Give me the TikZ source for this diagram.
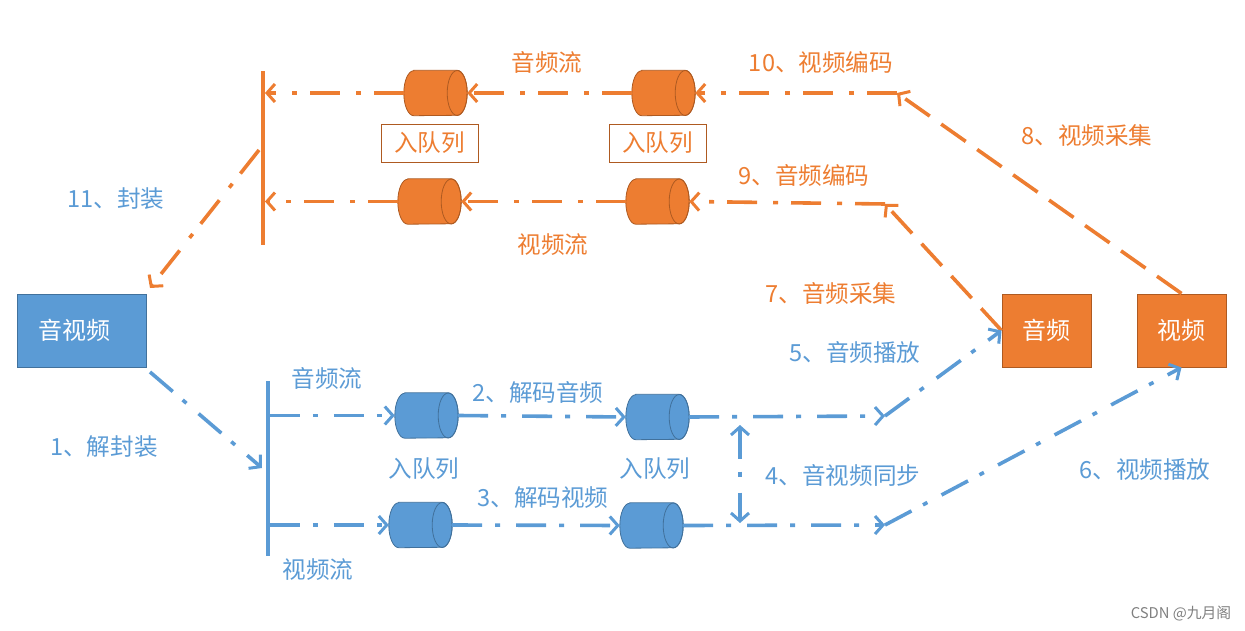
\documentclass[tikz,border=0pt]{standalone}
\usepackage{fontspec}
\setmainfont{Noto Sans CJK SC}
\usetikzlibrary{arrows.meta}
\definecolor{org}{HTML}{ED7D31}
\definecolor{orgd}{HTML}{AE5A21}
\definecolor{blu}{HTML}{5B9BD5}
\definecolor{blud}{HTML}{41719C}
\newcommand\mycyl[4]{%
  \node[inner sep=0, minimum width=63pt, minimum height=45pt] (#1) at (#2) {};
  \path[fill=#3, draw=#4, line width=0.8pt]
    ([xshift=10pt]#1.north west) -- ([xshift=-10pt]#1.north east)
    arc[start angle=90, end angle=-90, x radius=10pt, y radius=22.5pt]
    -- ([xshift=10pt]#1.south west)
    arc[start angle=270, end angle=90, x radius=10pt, y radius=22.5pt] -- cycle;
  \draw[draw=#4, line width=0.8pt] ([xshift=-10pt]#1.east) ellipse [x radius=10pt, y radius=22.5pt];
}
\begin{document}
\begin{tikzpicture}[x=1pt,y=-1pt,
  lab/.style={font=\fontsize{23.6}{28}\selectfont, inner sep=0},
  olab/.style={lab, text=org},
  blab/.style={lab, text=blu},
  obox/.style={draw=orgd, line width=1pt, fill=org, text=white, minimum width=89pt, minimum height=73pt, inner sep=0, font=\fontsize{24}{28}\selectfont},
  bbox/.style={obox, draw=blud, fill=blu},
  tip/.tip={Straight Barb[length=8pt,width=18pt,line width=3pt]},
  dd/.style={line width=3.6pt, dash pattern=on 30pt off 13pt on 5pt off 16pt, -tip},
  odd/.style={dd, draw=org},
  bdd/.style={dd, draw=blu},
  odash/.style={line width=3.6pt, draw=org, dash pattern=on 30pt off 14pt, -tip},
  bar/.style={inner sep=0, minimum width=3.5pt},
]
\useasboundingbox (0,0) rectangle (1245,631);
% boxes
\node[bbox, minimum width=129pt] (av) at (81.5,330.5) {\hspace*{-14pt}音视频};
\node[obox] (au) at (1046.5,330.5) {音频};
\node[obox] (vi) at (1181.5,330.5) {视频};
% bars
\node[bar, fill=org, minimum height=174pt] (obar) at (263,158) {};
\node[bar, fill=blu, minimum height=175pt] (bbar) at (268,468.5) {};
% orange cylinders
\mycyl{c1}{435.5,93}{org}{orgd}
\mycyl{c2}{663.5,93}{org}{orgd}
\mycyl{c3}{429.5,201.5}{org}{orgd}
\mycyl{c4}{657.5,201.5}{org}{orgd}
% blue cylinders
\mycyl{b1}{426.5,415.5}{blu}{blud}
\mycyl{b2}{657.5,417}{blu}{blud}
\mycyl{b3}{420.5,525}{blu}{blud}
\mycyl{b4}{651.5,525.5}{blu}{blud}
% corners
\coordinate (k10) at (897,93);
\coordinate (k9) at (885,204);
\coordinate (k5) at (885,416);
\coordinate (k6) at (885,525);
\coordinate (s1) at (740,425);
\coordinate (s2) at (740,523);
\coordinate (o11) at (259,150);
\coordinate (a11) at (150,288);
\coordinate (a1) at (150,372);
\coordinate (e1) at (262,468);
% orange connectors
\draw[odash] (vi.north) -- (k10);
\draw[odd] (k10) -- (c2.east);
\draw[odd] (c2.west) -- (c1.east);
\draw[odd] (c1.west) -- (obar.east |- c1.west);
\draw[odash] (au.west) -- (k9);
\draw[odd] (k9) -- (c4.east);
\draw[odd] (c4.west) -- (c3.east);
\draw[odd] (c3.west) -- (obar.east |- c3.west);
\draw[odd] (o11) -- (a11);
% blue connectors
\draw[bdd] (a1) -- (e1);
\draw[bdd] (bbar.east |- b1.west) -- (b1.west);
\draw[bdd] (bbar.east |- b3.west) -- (b3.west);
\draw[bdd] (b1.east) -- (b2.west);
\draw[bdd] (b3.east) -- (b4.west);
\draw[bdd] (b2.east) -- (k5);
\draw[bdd] (b4.east) -- (k6);
\draw[bdd] (k5) -- (au.west);
\draw[bdd] (k6) -- (vi.south);
\draw[bdd, tip-tip] (s1) -- (s2);
% orange labels
\node[olab] (l_as) at (547,62) {音频流};
\node[olab] (l_vs) at (553,245) {视频流};
\node[olab, draw=orgd, line width=0.8pt, minimum width=97pt, minimum height=38pt] (q1) at (429.5,143) {入队列};
\node[olab, draw=orgd, line width=0.8pt, minimum width=97pt, minimum height=38pt] (q2) at (657.5,143) {入队列};
\node[olab] (l10) at (821,62) {10、视频编码};
\node[olab] (l9) at (804,175) {9、音频编码};
\node[olab] (l8) at (1087,136) {8、视频采集};
\node[olab] (l7) at (831,293) {7、音频采集};
% blue labels
\node[blab] (l11) at (116,199) {11、封装};
\node[blab] (l5) at (855,352) {5、音频播放};
\node[blab] (l1) at (104,447) {1、解封装};
\node[blab] (l_bas) at (327,378) {音频流};
\node[blab] (l_bvs) at (318,570) {视频流};
\node[blab] (q3) at (424,469) {入队列};
\node[blab] (q4) at (655,469) {入队列};
\node[blab] (l2) at (538,392) {2、解码音频};
\node[blab] (l3) at (543,498) {3、解码视频};
\node[blab] (l4) at (843,475) {4、音视频同步};
\node[blab] (l6) at (1145,470) {6、视频播放};
\node[lab, text=gray, font=\fontsize{14.8}{17}\selectfont] (wm) at (1181,614) {CSDN @九月阁};
\end{tikzpicture}
\end{document}
